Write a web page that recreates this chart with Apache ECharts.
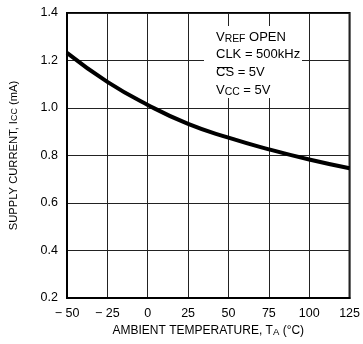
<!DOCTYPE html>
<html>
<head>
<meta charset="utf-8">
<script src="https://cdn.jsdelivr.net/npm/echarts@6/dist/echarts.min.js"></script>
<style>
html,body{margin:0;padding:0;background:#fff;}
#c{width:363px;height:344px;}
</style>
</head>
<body>
<div id="c"></div>
<script>
var temps = [-50, -25, 0, 25, 50, 75, 100, 125];
var supplyCurrent = [1.232, 1.11, 1.013, 0.933, 0.875, 0.826, 0.783, 0.746];
var xTicks = [-50, -25, 0, 25, 50, 75, 100, 125];
var yTicks = [0.2, 0.4, 0.6, 0.8, 1.0, 1.2, 1.4];

var FONT = '"Liberation Sans Narrow", "Arial Narrow", "Liberation Sans", Arial, sans-serif';
var chart = echarts.init(document.getElementById('c'), null, {renderer: 'canvas'});

var pts = temps.map(function (t, i) { return [t, supplyCurrent[i]]; });

function subRich(size) {
  return {
    a: {fontFamily: FONT, fontSize: size, color: '#000', lineHeight: 16, verticalAlign: 'bottom'},
    s: {fontFamily: FONT, fontSize: size * 0.8, color: '#000', lineHeight: 6, verticalAlign: 'bottom'}
  };
}

chart.setOption({
  animation: false,
  grid: {left: 64, right: 10, top: 13, bottom: 46, show: true, borderColor: '#000', borderWidth: 2, backgroundColor: 'transparent'},
  xAxis: {
    type: 'value', min: -50, max: 125, interval: 25,
    axisLine: {show: true, onZero: false, lineStyle: {color: '#000', width: 2}},
    axisTick: {show: false},
    splitLine: {show: true, lineStyle: {color: '#222', width: 1}},
    axisLabel: {
      color: '#000', fontFamily: FONT, fontSize: 12.5, margin: 9,
      formatter: function (v) { return v < 0 ? '\u2212 ' + Math.abs(v) : String(v); }
    },
    name: '{a|AMBIENT TEMPERATURE, T}{s|A}{a| (\u00B0C)}',
    nameLocation: 'middle', nameGap: 22,
    nameTextStyle: {rich: subRich(12)}
  },
  yAxis: {
    type: 'value', min: 0.2, max: 1.4, interval: 0.2,
    axisLine: {show: true, onZero: false, lineStyle: {color: '#000', width: 2}},
    axisTick: {show: false},
    splitLine: {show: true, lineStyle: {color: '#222', width: 1}},
    axisLabel: {
      color: '#000', fontFamily: FONT, fontSize: 12.5, margin: 9,
      formatter: function (v) { return v.toFixed(1); }
    },
    name: '{a|SUPPLY CURRENT, I}{s|CC}{a| (mA)}',
    nameLocation: 'middle', nameGap: 48, nameRotate: 90,
    nameTextStyle: {rich: subRich(11.2)}
  },
  series: [{
    type: 'line', data: pts, smooth: true, symbol: 'none',
    lineStyle: {color: '#000', width: 4}, z: 5
  }],
  graphic: [
    {type: 'rect', shape: {x: 204, y: 26, width: 98, height: 72}, style: {fill: '#fff'}, z: 10},
    {type: 'text', left: 216, top: 31, z: 11, style: {text: '{a|V}{s|REF}{a| OPEN}', rich: subRich(13)}},
    {type: 'text', left: 216, top: 48, z: 11, style: {text: '{a|CLK = 500kHz}', rich: subRich(13)}},
    {type: 'text', left: 216, top: 66, z: 11, style: {text: '{a|CS = 5V}', rich: subRich(13)}},
    {type: 'line', shape: {x1: 217, y1: 67.5, x2: 232, y2: 67.5}, style: {stroke: '#000', lineWidth: 1}, z: 11},
    {type: 'text', left: 216, top: 84, z: 11, style: {text: '{a|V}{s|CC}{a| = 5V}', rich: subRich(13)}}
  ]
});
</script>
</body>
</html>
